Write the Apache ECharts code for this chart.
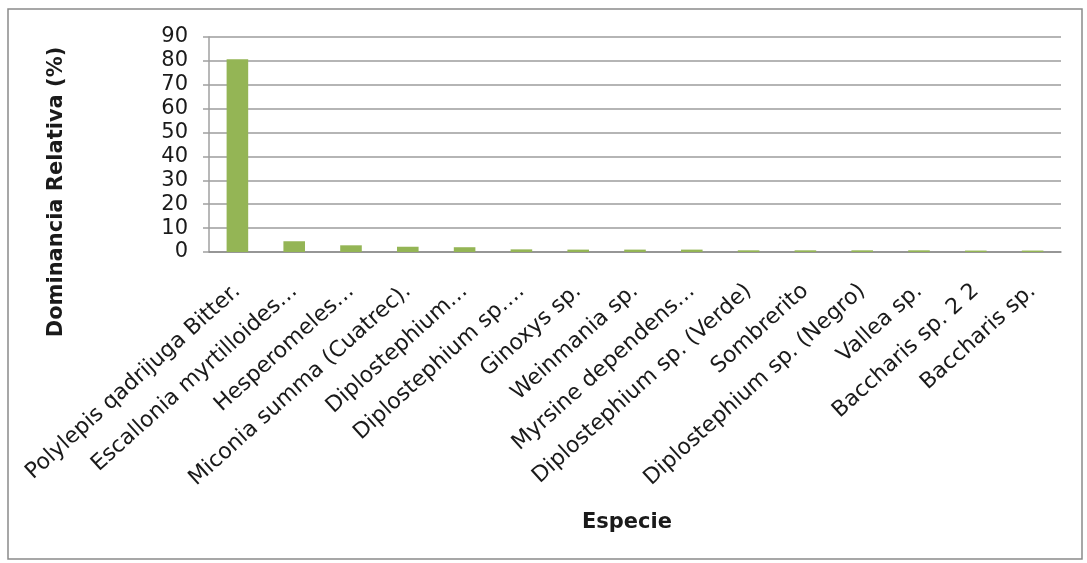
<!DOCTYPE html>
<html>
<head>
<meta charset="utf-8">
<script src="https://cdn.jsdelivr.net/npm/echarts@6/dist/echarts.min.js"></script>
<style>
  html, body { margin: 0; padding: 0; background: #fff; }
  #chart { width: 1087px; height: 563px; }
</style>
</head>
<body>
<div id="chart"></div>
<script>
// Species (x categories)
const especies = [
  'Polylepis qadrijuga Bitter.',
  'Escallonia myrtilloides…',
  'Hesperomeles…',
  'Miconia summa (Cuatrec).',
  'Diplostephium…',
  'Diplostephium sp.…',
  'Ginoxys sp.',
  'Weinmania sp.',
  'Myrsine dependens…',
  'Diplostephium sp. (Verde)',
  'Sombrerito',
  'Diplostephium sp. (Negro)',
  'Vallea sp.',
  'Baccharis sp. 2 2',
  'Baccharis sp.'
];

// Relative dominance (%) per species
const dominancia = [80.7, 4.5, 2.8, 2.2, 2.0, 1.1, 1.0, 1.0, 1.0, 0.7, 0.7, 0.7, 0.7, 0.6, 0.6];

// Value axis range
const yMin = 0;
const yMax = 90;
const yStep = 10;

const yTitle = 'Dominancia Relativa (%)';
const xTitle = 'Especie';

const chart = echarts.init(document.getElementById('chart'), null, { renderer: 'canvas' });

const font = '"DejaVu Sans", Arial, sans-serif';

chart.setOption({
  animation: false,
  backgroundColor: '#ffffff',
  grid: { left: 209, right: 26, top: 37, bottom: 311, containLabel: false },
  xAxis: {
    type: 'category',
    data: especies,
    axisLine: { show: true, lineStyle: { color: '#8c8c8c', width: 1.5 } },
    axisTick: { show: false },
    axisLabel: {
      rotate: 42,
      interval: 0,
      margin: 36,
      color: '#1a1a1a',
      fontFamily: font,
      fontSize: 22
    }
  },
  yAxis: {
    type: 'value',
    min: yMin,
    max: yMax,
    interval: yStep,
    axisLine: { show: true, lineStyle: { color: '#a0a0a0', width: 1.5 } },
    axisTick: { show: true, length: 6, lineStyle: { color: '#a0a0a0', width: 1.5 } },
    splitLine: { show: true, lineStyle: { color: '#9c9c9c', width: 1.5 } },
    axisLabel: {
      margin: 21,
      color: '#1a1a1a',
      fontFamily: font,
      fontSize: 21
    }
  },
  series: [{
    type: 'bar',
    data: dominancia,
    barWidth: '38%',
    itemStyle: { color: '#94b555' }
  }],
  graphic: [
    {
      type: 'rect',
      shape: { x: 8, y: 9, width: 1074, height: 550 },
      style: { fill: 'none', stroke: '#8a8a8a', lineWidth: 1.5 },
      z: -1
    },
    {
      type: 'text',
      x: 57, y: 192,
      rotation: Math.PI / 2,
      style: {
        text: yTitle,
        font: 'bold 21px ' + font,
        fill: '#1a1a1a',
        align: 'center',
        verticalAlign: 'middle'
      }
    },
    {
      type: 'text',
      x: 627, y: 523,
      style: {
        text: xTitle,
        font: 'bold 21px ' + font,
        fill: '#1a1a1a',
        align: 'center',
        verticalAlign: 'middle'
      }
    }
  ]
});
</script>
</body>
</html>
